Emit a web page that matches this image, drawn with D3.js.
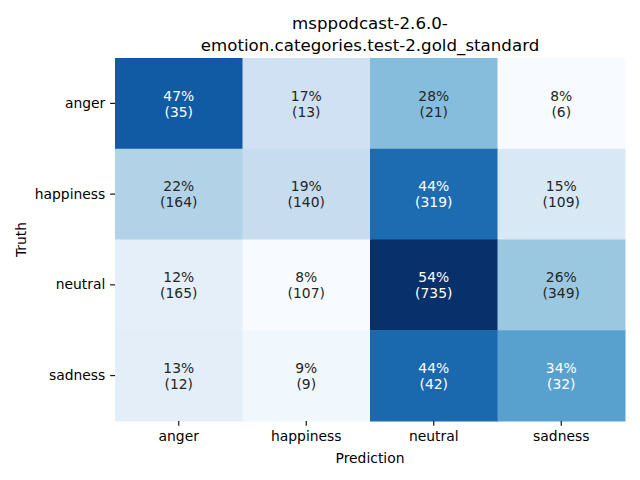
<!DOCTYPE html>
<html><head><meta charset="utf-8">
<script src="https://cdn.jsdelivr.net/npm/d3@7"></script>
<style>body{margin:0;background:#fff}svg{font-family:"DejaVu Sans",sans-serif}</style>
</head><body>
<svg id="c" width="640" height="480"></svg>
<script>
const titleLines = ["msppodcast-2.6.0-", "emotion.categories.test-2.gold_standard"];
const truthLabels = ["anger", "happiness", "neutral", "sadness"];
const predLabels = ["anger", "happiness", "neutral", "sadness"];
// counts[truth][prediction]
const counts = [
  [35, 13, 21, 6],
  [164, 140, 319, 109],
  [165, 107, 735, 349],
  [12, 9, 42, 32]
];
const xLabel = "Prediction", yLabel = "Truth";

const svg = d3.select("#c");
const L = 115, R = 625, T = 58, B = 421;
const x = d3.scaleBand().domain(predLabels).range([L, R]);
const y = d3.scaleBand().domain(truthLabels).range([T, B]);

const cells = [];
counts.forEach((row, i) => {
  const s = d3.sum(row);
  row.forEach((v, j) => cells.push({t: truthLabels[i], p: predLabels[j], n: v, pct: 100 * v / s}));
});
const vmin = d3.min(cells, d => d.pct), vmax = d3.max(cells, d => d.pct);
const blues = ["#f7fbff","#deebf7","#c6dbef","#9ecae1","#6baed6","#4292c6","#2171b5","#08519c","#08306b"];
const cs = d3.scaleLinear().domain(blues.map((_, k) => k / 8)).range(blues).interpolate(d3.interpolateRgb);
const color = v => cs((v - vmin) / (vmax - vmin));
function lum(c) {
  const r = d3.rgb(c);
  const f = u => { u /= 255; return u <= 0.03928 ? u / 12.92 : Math.pow((u + 0.055) / 1.055, 2.4); };
  return 0.2126 * f(r.r) + 0.7152 * f(r.g) + 0.0722 * f(r.b);
}

svg.selectAll("rect.cell").data(cells).join("rect").attr("class", "cell")
  .attr("x", d => x(d.p)).attr("y", d => y(d.t))
  .attr("width", x.bandwidth() + 0.5).attr("height", y.bandwidth() + 0.5)
  .attr("fill", d => color(d.pct));

const txt = svg.selectAll("text.ann").data(cells).join("text").attr("class", "ann")
  .attr("x", d => x(d.p) + x.bandwidth() / 2).attr("y", d => y(d.t) + y.bandwidth() / 2)
  .attr("text-anchor", "middle").attr("font-size", "13.89px")
  .attr("fill", d => lum(color(d.pct)) > 0.408 ? "#262626" : "#ffffff");
txt.append("tspan").attr("x", d => x(d.p) + x.bandwidth() / 2).attr("dy", "-0.2em").text(d => Math.round(d.pct) + "%");
txt.append("tspan").attr("x", d => x(d.p) + x.bandwidth() / 2).attr("dy", "1.15em").text(d => "(" + d.n + ")");

const xa = svg.append("g").attr("transform", `translate(0,${B})`).call(d3.axisBottom(x).tickSize(4.86).tickPadding(4.86));
const ya = svg.append("g").attr("transform", `translate(${L},0)`).call(d3.axisLeft(y).tickSize(4.86).tickPadding(4.86));
[xa, ya].forEach(a => {
  a.select(".domain").remove();
  a.selectAll("text").attr("font-size", "13.89px").attr("font-family", "DejaVu Sans").attr("fill", "#000");
  a.selectAll("line").attr("stroke", "#000").attr("stroke-width", 1.1);
});

svg.append("text").attr("x", (L + R) / 2).attr("y", 463).attr("text-anchor", "middle")
  .attr("font-size", "13.89px").text(xLabel);
svg.append("text").attr("transform", `translate(26,${(T + B) / 2}) rotate(-90)`).attr("text-anchor", "middle")
  .attr("font-size", "13.89px").text(yLabel);
svg.selectAll("text.title").data(titleLines).join("text").attr("class", "title")
  .attr("x", (L + R) / 2).attr("y", (d, i) => 29 + i * 21.5).attr("text-anchor", "middle")
  .attr("font-size", "16.67px").text(d => d);
</script>
</body></html>
